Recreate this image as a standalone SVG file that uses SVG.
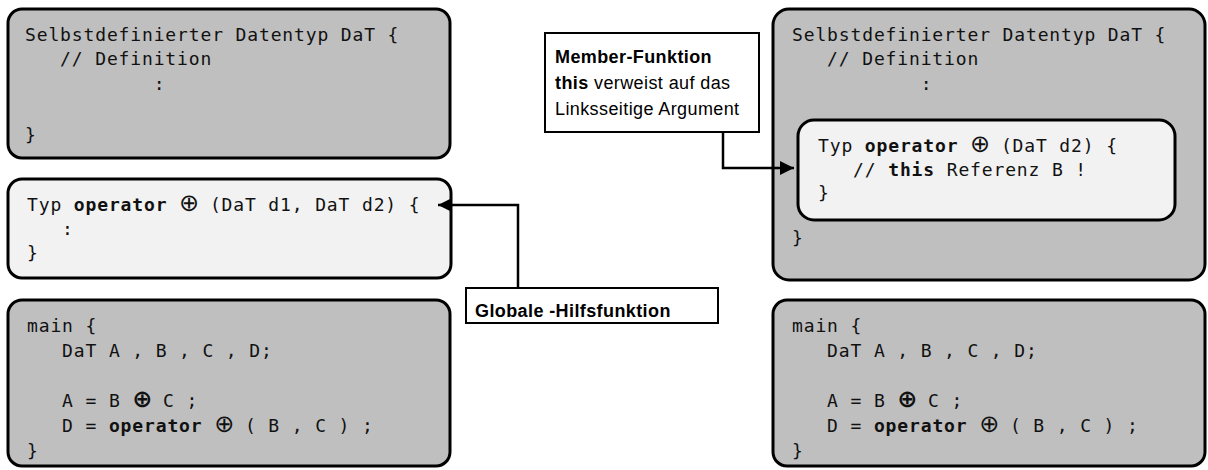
<svg xmlns="http://www.w3.org/2000/svg" width="1208" height="470" viewBox="0 0 1208 470">
<style>
.box{stroke:#000;stroke-width:3}
.dark{fill:#bfbfbf}
.light{fill:#f2f2f2}
.code{font-family:"DejaVu Sans Mono","Liberation Mono",monospace;font-size:18px;letter-spacing:0.86px;fill:#111}
.b{font-weight:bold}
.op{font-family:"DejaVu Sans",sans-serif;font-size:24px;letter-spacing:-1px}
.lbl{fill:#fff;stroke:#000;stroke-width:2}
.note{font-family:"Liberation Sans",Arial,sans-serif;font-size:18px;letter-spacing:0.4px;fill:#000}
.conn{fill:none;stroke:#000;stroke-width:2.5}
</style>
<defs>
<marker id="ah" markerUnits="userSpaceOnUse" markerWidth="15" markerHeight="15" refX="14" refY="7" orient="auto">
<path d="M0,0 L14,7 L0,14 Z" fill="#000"/>
</marker>
</defs>

<g id="left-datatype">
<rect class="box dark" x="8" y="9" width="442" height="149" rx="14"/>
<text class="code" x="25" y="41">Selbstdefinierter Datentyp DaT {</text>
<text class="code" x="60.1" y="65">// Definition</text>
<text class="code" x="153.7" y="90">:</text>
<text class="code" x="25" y="141">}</text>
</g>

<g id="left-operator">
<rect class="box light" x="8" y="179" width="443" height="99" rx="14"/>
<text class="code" x="27" y="211">Typ <tspan class="b">operator</tspan> <tspan class="op">⊕</tspan> (DaT d1, DaT d2) {</text>
<text class="code" x="62.1" y="235">:</text>
<text class="code" x="27" y="259">}</text>
</g>

<g id="left-main">
<rect class="box dark" x="8" y="300" width="442" height="166" rx="14"/>
<text class="code" x="27" y="332">main {</text>
<text class="code" x="62.1" y="357">DaT A , B , C , D;</text>
<text class="code" x="62.1" y="407">A = B <tspan class="op b">⊕</tspan> C ;</text>
<text class="code" x="62.1" y="432">D = <tspan class="b">operator</tspan> <tspan class="op">⊕</tspan> ( B , C ) ;</text>
<text class="code" x="27" y="457">}</text>
</g>

<g id="label-global">
<rect class="lbl" x="466" y="288" width="252" height="35"/>
<text class="note b" x="475" y="317">Globale -Hilfsfunktion</text>
</g>

<g id="label-member">
<rect class="lbl" x="545" y="33" width="214" height="99"/>
<text class="note b" x="555" y="63">Member-Funktion</text>
<text class="note" x="555" y="89"><tspan class="b">this</tspan> verweist auf das</text>
<text class="note" x="555" y="115">Linksseitige Argument</text>
</g>

<g id="right-datatype">
<rect class="box dark" x="773" y="9" width="432" height="271" rx="16"/>
<text class="code" x="792" y="41">Selbstdefinierter Datentyp DaT {</text>
<text class="code" x="827.1" y="65">// Definition</text>
<text class="code" x="920.7" y="90">:</text>
<text class="code" x="792" y="244">}</text>
</g>

<g id="right-operator">
<rect class="box light" x="798" y="120" width="377" height="100" rx="16"/>
<text class="code" x="818" y="152">Typ <tspan class="b">operator</tspan> <tspan class="op">⊕</tspan> (DaT d2) {</text>
<text class="code" x="853.1" y="176">// <tspan class="b">this</tspan> Referenz B !</text>
<text class="code" x="818" y="199">}</text>
</g>

<g id="right-main">
<rect class="box dark" x="773" y="300" width="432" height="166" rx="14"/>
<text class="code" x="792" y="332">main {</text>
<text class="code" x="827.1" y="357">DaT A , B , C , D;</text>
<text class="code" x="827.1" y="407">A = B <tspan class="op b">⊕</tspan> C ;</text>
<text class="code" x="827.1" y="432">D = <tspan class="b">operator</tspan> <tspan class="op">⊕</tspan> ( B , C ) ;</text>
<text class="code" x="792" y="457">}</text>
</g>

<g id="connectors">
<polyline class="conn" points="518,288 518,205 438,205" marker-end="url(#ah)"/>
<polyline class="conn" points="723,132 723,168 794,168" marker-end="url(#ah)"/>
</g>
</svg>
